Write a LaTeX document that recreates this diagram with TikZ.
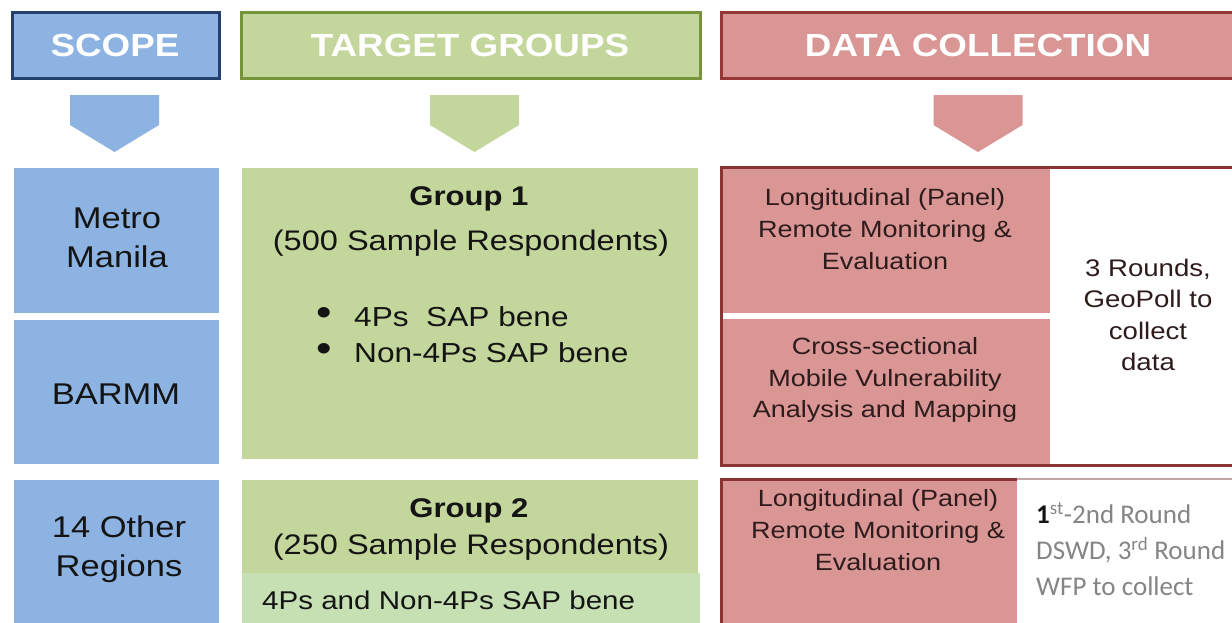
\documentclass[tikz,border=0pt]{standalone}
\usepackage{fontspec}
\setmainfont[FakeStretch=1.15]{Liberation Sans}
\newfontfamily\notefont{Carlito}
\usetikzlibrary{positioning}

\definecolor{scopefill}{HTML}{8DB3E2}
\definecolor{scopeline}{HTML}{24406E}
\definecolor{groupfill}{HTML}{C3D69B}
\definecolor{groupline}{HTML}{77933C}
\definecolor{bandfill}{HTML}{C6E0B4}
\definecolor{datafill}{HTML}{D99694}
\definecolor{dataline}{HTML}{953735}
\definecolor{boxline}{HTML}{8A3434}
\definecolor{softline}{HTML}{C4A6A6}
\definecolor{ink}{HTML}{141414}
\definecolor{datink}{HTML}{2E1C1C}
\definecolor{notegray}{HTML}{858585}

\begin{document}
\begin{tikzpicture}[
		x=1pt, y=-1pt,
		headtext/.style={text=white, inner sep=0pt, font=\fontsize{32}{36}\selectfont\bfseries},
		scopetext/.style={text=ink, align=center, inner sep=0pt, font=\fontsize{30}{39}\selectfont},
		grouptext/.style={text=ink, align=center, inner sep=0pt, font=\fontsize{27}{32}\selectfont\bfseries},
		sampletext/.style={text=ink, align=center, inner sep=0pt, font=\fontsize{28.3}{32}\selectfont},
		benetext/.style={text=ink, inner sep=0pt, font=\fontsize{27.5}{32}\selectfont},
		datatext/.style={text=datink, align=center, inner sep=0pt, font=\fontsize{23.5}{31.7}\selectfont},
		notetext/.style={text=notegray, align=left, inner sep=0pt, font=\notefont\fontsize{27}{36}\selectfont}
	]

	\useasboundingbox (0,0) rectangle (1232,622);
	\clip (0,0) rectangle (1232,622);
	\fill[white] (0,0) rectangle (1232,622);

	% column heads
	\draw[line width=3, draw=scopeline, fill=scopefill] (12,12) rectangle (219,78);
	\draw[line width=3, draw=groupline, fill=groupfill] (241,12) rectangle (700,78);
	\draw[line width=3, draw=dataline, fill=datafill] (721,12) rectangle (1250,78);

	\node[headtext] (scope-head) at (115,45) {SCOPE};
	\node[headtext] (group-head) at (470,45) {TARGET GROUPS};
	\node[headtext] (data-head) at (978,45) {DATA COLLECTION};

	% down arrows
	\foreach \cx/\col in {114.5/scopefill, 474.5/groupfill, 978/datafill} {
			\fill[\col] (\cx-44.5,95) -- (\cx+44.5,95) -- (\cx+44.5,125) -- (\cx,152) -- (\cx-44.5,125) -- cycle;
		}

	% scope
	\fill[scopefill] (14,168) rectangle (219,313);
	\fill[scopefill] (14,320) rectangle (219,464);
	\fill[scopefill] (14,480) rectangle (219,640);

	\node[scopetext] (metro) at (117,238) {Metro\\Manila};
	\node[scopetext] (barmm) at (116,394) {BARMM};
	\node[scopetext] (others) at (119,549) {14 Other\\Regions};

	% target groups
	\fill[groupfill] (242,168) rectangle (698,459);
	\fill[groupfill] (242,480) rectangle (698,640);
	\fill[bandfill] (242,573) rectangle (700,640);

	\node[grouptext] (group-1) at (469,199) {Group 1};
	\node[sampletext] (sample-1) at (471,243) {(500 Sample Respondents)};
	\node[benetext, anchor=west] (bene-1) at (354,317) {4Ps\ \ SAP bene};
	\node[benetext, anchor=west] (bene-2) at (354,353) {Non-4Ps SAP bene};
	\foreach \b in {1, 2} {
			\node[benetext, left=30pt of bene-\b.west, anchor=center, scale=1.4] (dot-\b) {\textbullet};
		}

	\node[grouptext] (group-2) at (469,511) {Group 2};
	\node[sampletext] (sample-2) at (471,547) {(250 Sample Respondents)};
	\node[benetext, anchor=west, font=\fontsize{25.7}{30}\selectfont] (band) at (262,600) {4Ps and Non-4Ps SAP bene};

	% data collection
	\fill[datafill] (721,167) rectangle (1050,313);
	\fill[datafill] (721,319) rectangle (1050,465);
	\draw[line width=3, boxline] (1250,167) -- (721,167) -- (721,465) -- (1250,465);

	\node[datatext] (panel-1) at (885,229) {Longitudinal (Panel)\\Remote Monitoring \&\\Evaluation};
	\node[datatext] (cross) at (885,380) {Cross-sectional\\Mobile Vulnerability\\Analysis and Mapping};
	\node[datatext, font=\fontsize{24}{31.5}\selectfont] (rounds) at (1148,315) {3 Rounds,\\GeoPoll to\\collect\\data};

	\fill[datafill] (721,479) rectangle (1017,640);
	\draw[line width=2, softline] (1017,479) -- (1250,479);
	\draw[line width=3, boxline] (721,640) -- (721,479) -- (1017,479);

	\node[datatext] (panel-2) at (878,530) {Longitudinal (Panel)\\Remote Monitoring \&\\Evaluation};
	\node[notetext, anchor=west] (note) at (1036,549) {{\color{ink}\bfseries 1}\textsuperscript{st}-2nd Round\\DSWD, 3\textsuperscript{rd} Round\\WFP to collect};

\end{tikzpicture}
\end{document}
